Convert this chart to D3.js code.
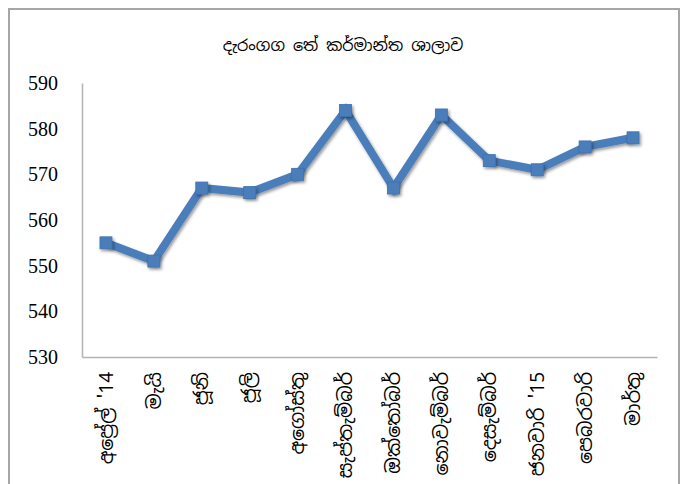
<!DOCTYPE html>
<html><head><meta charset="utf-8">
<script src="https://cdn.jsdelivr.net/npm/d3@7"></script>
<style>body{margin:0;background:#fff}svg{display:block}</style>
</head><body><svg id="c" width="685" height="484"></svg>
<script>
const title = "දැරංගග තේ කර්මාන්ත ශාලාව";
const months = ["අප්‍රේල් '14","මැයි","ජූනි","ජූලි","අගෝස්තු","සැප්තැම්බර්","ඔක්තෝබර්","නොවැම්බර්","දෙසැම්බර්","ජනවාරි '15","පෙබරවාරි","මාර්තු"];
const values = [555,551,567,566,570,584,567,583,573,571,576,578];
const yTicks = [530,540,550,560,570,580,590];

const svg = d3.select("#c");
const L=82, R=657, T=83, B=357;
svg.append("rect").attr("x",9).attr("y",9).attr("width",670).attr("height",490)
  .attr("fill","none").attr("stroke","#a6a6a6").attr("stroke-width",2);

const defs = svg.append("defs");
const f = defs.append("filter").attr("id","sh").attr("x","-50%").attr("y","-50%").attr("width","200%").attr("height","200%");
f.append("feDropShadow").attr("dx",1.5).attr("dy",2).attr("stdDeviation",1.5).attr("flood-color","#000").attr("flood-opacity",0.4);

const x = d3.scaleBand().domain(months).range([L,R]);
const y = d3.scaleLinear().domain([530,590]).range([B,T]);

svg.append("text").attr("x",343).attr("y",51).attr("text-anchor","middle")
  .attr("font-family","'Noto Sans Sinhala','Iskoola Pota',sans-serif").attr("font-size",16).attr("fill","#000").text(title);

const ya = svg.append("g").attr("transform",`translate(${L},0)`)
  .call(d3.axisLeft(y).tickValues(yTicks).tickSize(0).tickPadding(24));
ya.select(".domain").attr("stroke","#b3b3b3").attr("stroke-width",1.5);
ya.selectAll("text").attr("font-family","'Liberation Serif','DejaVu Serif',serif").attr("font-size",20).attr("fill","#000");

const xa = svg.append("g").attr("transform",`translate(0,${B})`)
  .call(d3.axisBottom(x).tickSize(0).tickPadding(0));
xa.select(".domain").attr("stroke","#b3b3b3").attr("stroke-width",1.5);
xa.selectAll("text").attr("font-family","'Noto Sans Sinhala',sans-serif").attr("font-size",19).attr("fill","#000")
  .attr("text-anchor","end").attr("dy","0.35em")
  .attr("transform","translate(0,15) rotate(-90)").attr("x",0).attr("y",0);

const cx = d => x(d)+x.bandwidth()/2;
const line = d3.line().x((d,i)=>cx(months[i])).y(d=>y(d));
svg.append("path").datum(values).attr("d",line).attr("fill","none")
  .attr("stroke","#4a7ebb").attr("stroke-width",8).attr("stroke-linejoin","miter").attr("filter","url(#sh)");
svg.append("g").selectAll("rect").data(values).join("rect")
  .attr("x",(d,i)=>cx(months[i])-6).attr("y",d=>y(d)-6).attr("width",12).attr("height",12)
  .attr("fill","#4a7ebb").attr("stroke","#3f72ad").attr("stroke-width",0.8).attr("filter","url(#sh)");
</script></body></html>
